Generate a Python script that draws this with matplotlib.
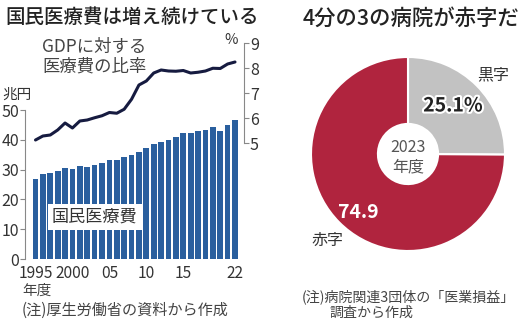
import matplotlib
matplotlib.use('Agg')
import matplotlib.pyplot as plt
import matplotlib.patheffects as pe

plt.rcParams['font.family'] = ['Noto Sans CJK JP', 'DejaVu Sans']

# data
years = list(range(1995, 2023))
expense = [26.96, 28.45, 28.91, 29.58, 30.70, 30.14, 31.10, 30.95, 31.54, 32.11,
           33.13, 33.13, 34.14, 34.81, 36.01, 37.42, 38.59, 39.21, 40.06, 40.81,
           42.36, 42.14, 43.07, 43.40, 44.39, 42.97, 45.04, 46.70]
gdp_ratio = [5.12, 5.28, 5.32, 5.52, 5.80, 5.60, 5.88, 5.92, 6.01, 6.09,
             6.22, 6.19, 6.35, 6.75, 7.32, 7.48, 7.80, 7.92, 7.88, 7.87,
             7.90, 7.80, 7.83, 7.88, 7.99, 7.98, 8.16, 8.24]
year_ticks = [1995, 2000, 2005, 2010, 2015, 2022]
year_labels = ['1995', '2000', '05', '10', '15', '22']
left_ticks = [0, 10, 20, 30, 40, 50]
right_ticks = [5, 6, 7, 8, 9]

pie_labels = ['黒字', '赤字']
pie_values = [25.1, 74.9]

W, H = 523, 323
BLUE = '#2a5f9e'
NAVY = '#161b40'
RED = '#b0243e'
GRAY = '#c2c2c2'
TXT = '#333333'
AX = '#888888'


def fx(x):
    return x / W


def fy(y):
    return 1 - y / H


fig = plt.figure(figsize=(W / 100, H / 100), dpi=100)

# ---- left chart ----
ax = fig.add_axes([fx(25), fy(259), (243.5 - 25) / W, (259 - 40) / H])
xs = list(range(len(years)))
ax.bar(xs, expense, width=0.77, color=BLUE, zorder=2)
ax.set_xlim(-1.42, 28.15)
ax.set_ylim(0, 73.5)
ax.set_yticks(left_ticks)
ax.set_yticklabels([str(t) for t in left_ticks])
ax.set_xticks([years.index(y) for y in year_ticks])
ax.set_xticklabels(year_labels)
for s in ['top', 'right', 'bottom']:
    ax.spines[s].set_visible(False)
ax.spines['left'].set_bounds(0, 50)
ax.spines['left'].set_color(AX)
ax.tick_params(axis='y', length=3.5, color=AX, labelsize=11.5, labelcolor=TXT, pad=1)
ax.tick_params(axis='x', length=0, labelsize=11.2, labelcolor=TXT, pad=4)

ax.text(8, 14.1, '国民医療費', fontsize=12.3, color=TXT, ha='center', va='center',
        zorder=3, bbox=dict(fc='white', ec='none', pad=3))

ax2 = ax.twinx()
ax2.plot(xs, gdp_ratio, color=NAVY, lw=2.2, solid_capstyle='round', zorder=3)
ax2.set_ylim(0.36, 9.12)
ax2.set_yticks(right_ticks)
ax2.set_yticklabels([str(t) for t in right_ticks])
for s in ['top', 'left', 'bottom']:
    ax2.spines[s].set_visible(False)
ax2.spines['right'].set_bounds(5, 9)
ax2.spines['right'].set_color(AX)
ax2.tick_params(axis='y', length=3.5, color=AX, labelsize=11.5, labelcolor=TXT, pad=1)

fig.text(fx(5), fy(17), '国民医療費は増え続けている', fontsize=14, fontweight='medium',
         color='#222222', ha='left', va='center')
fig.text(fx(42), fy(47), 'GDPに対する', fontsize=12.5, color='#444444', ha='left', va='center')
fig.text(fx(42), fy(67), '医療費の比率', fontsize=12.5, color='#444444', ha='left', va='center')
fig.text(fx(17), fy(95), '兆円', fontsize=10.5, color=TXT, ha='center', va='center')
fig.text(fx(231), fy(40), '%', fontsize=10.5, color=TXT, ha='center', va='center')
fig.text(fx(22), fy(291), '年度', fontsize=10.5, color='#444444', ha='left', va='center')
fig.text(fx(22), fy(310), '(注)厚生労働省の資料から作成', fontsize=10.9, color='#444444',
         ha='left', va='center')

# ---- right chart ----
R = 97
pax = fig.add_axes([fx(408 - 100), fy(154 + 100), 200 / W, 200 / H])
pax.pie(pie_values, colors=[GRAY, RED], startangle=90, counterclock=False,
        radius=1, wedgeprops=dict(width=0.69, edgecolor='white', linewidth=1.5))
lim = 100 / R
pax.set_xlim(-lim, lim)
pax.set_ylim(-lim, lim)
pax.set_aspect('equal')
pax.axis('off')


def px(x, y):
    return (x - 408) / R, (154 - y) / R


pax.text(*px(493, 75), pie_labels[0], fontsize=11.5, color=TXT, ha='center', va='center')
pax.text(*px(453, 106), f'{pie_values[0]}%', fontsize=14, fontweight='bold', color='#222222',
         ha='center', va='center',
         path_effects=[pe.withStroke(linewidth=3, foreground='white')])
pax.text(*px(358, 213), f'{pie_values[1]}', fontsize=14, fontweight='bold', color='white',
         ha='center', va='center')
pax.text(*px(327, 240), pie_labels[1], fontsize=11.5, color=TXT, ha='center', va='center')
pax.text(*px(408, 147), '2023', fontsize=11.5, color='#555555', ha='center', va='center')
pax.text(*px(408, 167), '年度', fontsize=11.5, color='#555555', ha='center', va='center')

fig.text(fx(303), fy(19), '4分の3の病院が赤字だ', fontsize=15.4, fontweight='medium',
         color='#222222', ha='left', va='center')
fig.text(fx(302), fy(297), '(注)病院関連3団体の「医業損益」', fontsize=10.1, color='#444444',
         ha='left', va='center')
fig.text(fx(329), fy(313), '調査から作成', fontsize=10.1, color='#444444',
         ha='left', va='center')

fig.savefig('out.png', dpi=100)
